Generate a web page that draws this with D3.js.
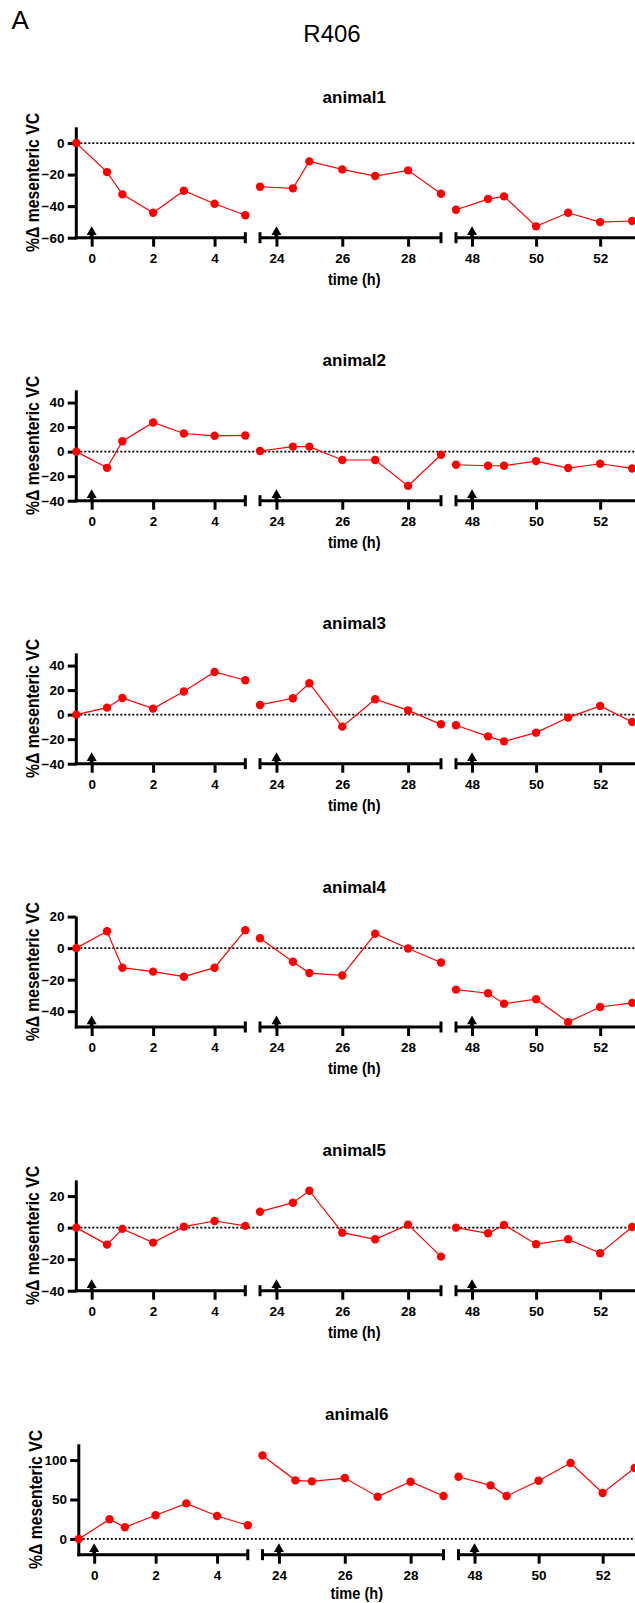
<!DOCTYPE html>
<html>
<head>
<meta charset="utf-8">
<script src="https://cdn.jsdelivr.net/npm/d3@7"></script>
<style>
  body { margin: 0; background: #fff; }
  svg { display: block; font-family: "Liberation Sans", Arial, Helvetica, sans-serif; }
</style>
</head>
<body>
<svg id="chart" width="635" height="1603"></svg>
<script>
// ---- data ----
const animalNames = ["animal1", "animal2", "animal3", "animal4", "animal5", "animal6"];

// sampling times (h), three recording days
const times = [
  -0.5, 0.5, 1, 2, 3, 4, 5,
  23.5, 24.5, 25, 26, 27, 28, 29,
  47.5, 48.5, 49, 50, 51, 52, 53
];

// % change in mesenteric vascular conductance
const animal1 = [0, -18.4, -32.5, -44.2, -30.2, -38.5, -45.8,
                 -27.7, -28.7, -11.6, -16.7, -20.9, -17.3, -32.1,
                 -42.3, -35.5, -33.8, -52.8, -44.2, -50.1, -49.4];
const animal2 = [0, -13.2, 8.5, 23.8, 14.8, 12.9, 13.2,
                 0.5, 4.1, 4.1, -6.8, -6.8, -27.9, -2.5,
                 -10.7, -11.5, -11.5, -7.7, -13.4, -9.9, -13.7];
const animal3 = [0, 5.7, 13.6, 4.9, 18.8, 34.8, 28.0,
                 7.9, 13.3, 25.6, -9.8, 12.5, 3.5, -7.9,
                 -8.7, -17.7, -21.8, -14.7, -2.4, 7.1, -6.0];
const animal4 = [0, 10.7, -12.4, -14.9, -18.1, -12.4, 11.4,
                 6.3, -8.6, -15.8, -17.3, 9.1, -0.2, -9.1,
                 -26.3, -28.6, -35.2, -32.4, -46.9, -37.3, -34.7];
const animal5 = [0, -10.8, -0.8, -9.5, 0.6, 4.2, 1.1,
                 10.1, 15.8, 23.4, -3.2, -7.4, 1.9, -18.4,
                 0, -3.6, 1.7, -10.5, -7.4, -16.2, 0.4];
const animal6 = [0, 24.9, 14.8, 30.0, 45.1, 29.1, 17.3,
                 105.9, 74.3, 73.0, 77.2, 53.6, 72.6, 54.4,
                 78.9, 67.9, 54.4, 73.8, 96.2, 58.2, 89.9];
const seriesValues = [animal1, animal2, animal3, animal4, animal5, animal6];

// broken x axis: one domain per recording day
const segmentDomains = [[-0.5, 5], [23.5, 29], [47.5, 53]];
const segmentTicks = [[0, 2, 4], [24, 26, 28], [48, 50, 52]];
const doseTimes = [0, 24, 48];

// y axes
const yDomains = [[-60, 10], [-40, 50], [-40, 50], [-50, 20], [-40, 30], [-20, 120]];
const yTicks = [
  [0, -20, -40, -60],
  [40, 20, 0, -20, -40],
  [40, 20, 0, -20, -40],
  [20, 0, -20, -40],
  [20, 0, -20, -40],
  [100, 50, 0]
];

// ---- layout ----
const svg = d3.select("#chart");
const plotBottoms = [237.7, 500.7, 763.7, 1027, 1290.7, 1554.7];
const plotHeight = 110.4;
const panelShift = [0, 0, 0, 0, 0, 2.5];
const segmentRanges = [[76.3, 245.3], [260, 441], [456, 632.2]];
const red = "#ff0000";
const fmt = d3.format("d");

svg.append("rect").attr("width", 635).attr("height", 1603).attr("fill", "#fff");

svg.append("text").attr("x", 11.5).attr("y", 29.3)
  .attr("font-size", 26).attr("fill", "#000").text("A");
svg.append("text").attr("x", 332).attr("y", 42.3).attr("text-anchor", "middle")
  .attr("font-size", 24).attr("fill", "#000").text("R406");

const segIndex = t => (t < 12 ? 0 : t < 36 ? 1 : 2);

animalNames.forEach((name, p) => {
  const bottom = plotBottoms[p];
  const top = bottom - plotHeight;
  const g = svg.append("g").attr("transform", `translate(${panelShift[p]},0)`);

  const y = d3.scaleLinear().domain(yDomains[p]).range([bottom, top]);
  const xs = segmentDomains.map((d, i) => d3.scaleLinear().domain(d).range(segmentRanges[i]));
  const x0 = segmentRanges[0][0];
  const xEnd = segmentRanges[2][1];
  const xMid = (x0 + xEnd) / 2;

  // title
  g.append("text").attr("x", xMid).attr("y", top - 24)
    .attr("text-anchor", "middle").attr("font-size", 17).attr("font-weight", "bold")
    .text(name);

  // y axis title
  g.append("text")
    .attr("transform", `translate(39.1,${(top + bottom) / 2}) rotate(-90) scale(0.83,1)`)
    .attr("text-anchor", "middle").attr("font-size", 19).attr("font-weight", "bold")
    .text("%Δ mesenteric VC");

  // dotted zero line
  g.append("line")
    .attr("x1", x0).attr("x2", 640).attr("y1", y(0)).attr("y2", y(0))
    .attr("stroke", "#000").attr("stroke-width", 1.8).attr("stroke-dasharray", "2,2");

  // y axis
  const yAxis = g.append("g").attr("transform", `translate(${x0},0)`)
    .call(d3.axisLeft(y).tickValues(yTicks[p]).tickFormat(fmt)
      .tickSize(8.6).tickPadding(3.2).tickSizeOuter(0));
  yAxis.select(".domain").remove();
  yAxis.selectAll(".tick line").attr("stroke", "#000").attr("stroke-width", 3);
  yAxis.selectAll(".tick text").attr("font-size", 13.5).attr("font-weight", "bold")
    .attr("font-family", null).attr("fill", "#000");
  g.append("line").attr("x1", x0).attr("x2", x0).attr("y1", top).attr("y2", bottom + 1.5)
    .attr("stroke", "#000").attr("stroke-width", 3);

  // x axis segments
  xs.forEach((x, i) => {
    const ax = g.append("g").attr("transform", `translate(0,${bottom})`)
      .call(d3.axisBottom(x).tickValues(segmentTicks[i]).tickFormat(fmt)
        .tickSize(9).tickPadding(6.4).tickSizeOuter(0));
    ax.select(".domain").remove();
    ax.selectAll(".tick line").attr("stroke", "#000").attr("stroke-width", 3);
    ax.selectAll(".tick text").attr("font-size", 13.5).attr("font-weight", "bold")
      .attr("font-family", null).attr("fill", "#000");

    const [r0, r1] = x.range();
    const lineEnd = i === 2 ? r1 + 6 : r1;
    g.append("line").attr("x1", i === 0 ? r0 - 1.5 : r0).attr("x2", lineEnd)
      .attr("y1", bottom).attr("y2", bottom).attr("stroke", "#000").attr("stroke-width", 3);
    const caps = i === 0 ? [r1] : i === 1 ? [r0, r1] : [r0];
    caps.forEach(cx => {
      g.append("line").attr("x1", cx).attr("x2", cx)
        .attr("y1", bottom - 5.5).attr("y2", bottom + 5.5)
        .attr("stroke", "#000").attr("stroke-width", 3);
    });

    // dosing arrow
    const ax0 = x(doseTimes[i]);
    const hw = 5, sw = 1.9, apex = bottom - 11.5, base = bottom - 2.8;
    g.append("path")
      .attr("d", `M${ax0},${apex}L${ax0 + hw},${base}L${ax0 + sw},${base}` +
                 `L${ax0 + sw},${bottom}L${ax0 - sw},${bottom}L${ax0 - sw},${base}` +
                 `L${ax0 - hw},${base}Z`)
      .attr("fill", "#000");
  });

  // x axis title
  g.append("text")
    .attr("transform", `translate(${xMid},${Math.min(bottom + 46.8, 1599.3)}) scale(0.91,1)`)
    .attr("text-anchor", "middle").attr("font-size", 16).attr("font-weight", "bold")
    .text("time (h)");

  // series: one line per recording day
  const pts = times.map((t, k) => ({ t, v: seriesValues[p][k], s: segIndex(t) }));
  const line = d3.line().x(d => xs[d.s](d.t)).y(d => y(d.v));
  d3.range(3).forEach(s => {
    g.append("path").datum(pts.filter(d => d.s === s))
      .attr("d", line).attr("fill", "none").attr("stroke", red).attr("stroke-width", 1.2);
  });
  g.selectAll("circle.pt").data(pts).join("circle")
    .attr("class", "pt")
    .attr("cx", d => xs[d.s](d.t)).attr("cy", d => y(d.v)).attr("r", 4.2)
    .attr("fill", red);
});
</script>
</body>
</html>
